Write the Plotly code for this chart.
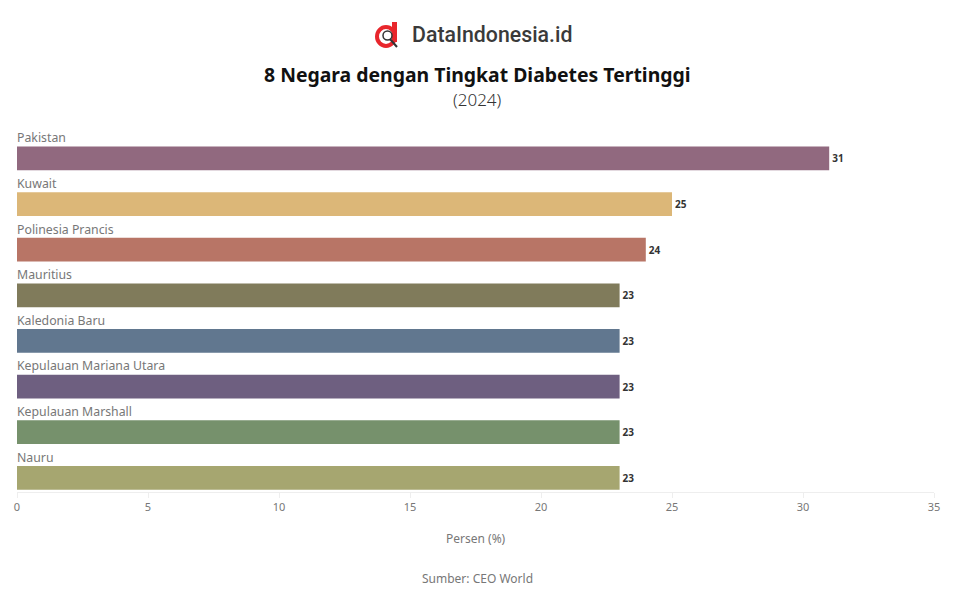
import plotly.graph_objects as go

countries = ["Pakistan", "Kuwait", "Polinesia Prancis", "Mauritius", "Kaledonia Baru",
             "Kepulauan Mariana Utara", "Kepulauan Marshall", "Nauru"]
values = [31, 25, 24, 23, 23, 23, 23, 23]
colors = ["#91697f", "#dcb778", "#b87566", "#807b5b", "#61778f", "#6e5f80", "#76916c", "#a6a670"]
x_ticks = [0, 5, 10, 15, 20, 25, 30, 35]

W, H = 954, 596
L, R, T, B = 17, 20, 127, 104
PW, PH = W - L - R, H - T - B

def P(x, y):
    return (x - L) / PW, (H - B - y) / PH

fig = go.Figure(go.Bar(
    y=countries, x=values, orientation="h",
    marker=dict(color=colors, line_width=0),
    width=0.52, offset=-0.45,
    text=values, textposition="outside", cliponaxis=False,
    textfont=dict(family="Noto Sans", size=10, color="#333333", weight="bold"),
    hoverinfo="skip",
))

annotations = [
    dict(x=0, y=c, xref="x", yref="y", text=c, showarrow=False, xanchor="left", yanchor="middle",
         xshift=-2, yshift=12, font=dict(family="Noto Sans", size=12.3, color="#777777"))
    for c in countries
]
top_texts = [
    ("DataIndonesia.id", 492, 35, 21.3, "Roboto", "#3a3a3a", 500),
    ("8 Negara dengan Tingkat Diabetes Tertinggi", 477, 74, 19.4, "Noto Sans", "#111111", 700),
    ("(2024)", 477, 99, 17, "Noto Sans", "#333333", 300),
    ("Persen (%)", 476, 538, 12, "Noto Sans", "#777777", 400),
    ("Sumber: CEO World", 477, 578, 12, "Noto Sans", "#777777", 400),
]
for t, px, py, s, fam, col, wt in top_texts:
    ax, ay = P(px, py)
    annotations.append(dict(x=ax, y=ay, xref="paper", yref="paper", text=t, showarrow=False,
                            xanchor="center", yanchor="middle",
                            font=dict(family=fam, size=s, color=col, weight=wt)))

x0, y1 = P(377, 27); x1, y0 = P(395, 46)
sx0, sy1 = P(392, 22); sx1, sy0 = P(397, 42)
mx0, my1 = P(383, 31); mx1, my0 = P(392, 40)
lx0, ly1 = P(390, 39); lx1, ly0 = P(397, 47)
shapes = [
    dict(type="circle", xref="paper", yref="paper", x0=x0, x1=x1, y0=y0, y1=y1,
         fillcolor="#ffffff", line=dict(color="#e8262c", width=4)),
    dict(type="rect", xref="paper", yref="paper", x0=sx0, x1=sx1, y0=sy0, y1=sy1,
         fillcolor="#e8262c", line_width=0),
    dict(type="circle", xref="paper", yref="paper", x0=mx0, x1=mx1, y0=my0, y1=my1,
         fillcolor="#ffffff", line=dict(color="#333333", width=1.5)),
    dict(type="line", xref="paper", yref="paper", x0=lx0, x1=lx1, y0=ly1, y1=ly0,
         line=dict(color="#333333", width=2)),
]

fig.update_layout(
    width=W, height=H, margin=dict(l=L, r=R, t=T, b=B),
    paper_bgcolor="white", plot_bgcolor="white", showlegend=False,
    annotations=annotations, shapes=shapes,
    xaxis=dict(range=[0, 35], tickvals=x_ticks, showgrid=False, zeroline=False,
               showline=True, linecolor="#eeeeee", linewidth=1, ticks="outside", ticklen=5,
               tickcolor="#eeeeee", tickfont=dict(family="Noto Sans", size=11, color="#777777")),
    yaxis=dict(categoryorder="array", categoryarray=countries[::-1], range=[-0.5, 7.5],
               showticklabels=False, showgrid=False, zeroline=False, showline=False),
)
fig.write_html("out.html", config={"displayModeBar": False},
               post_script="document.body.style.margin='0';")
